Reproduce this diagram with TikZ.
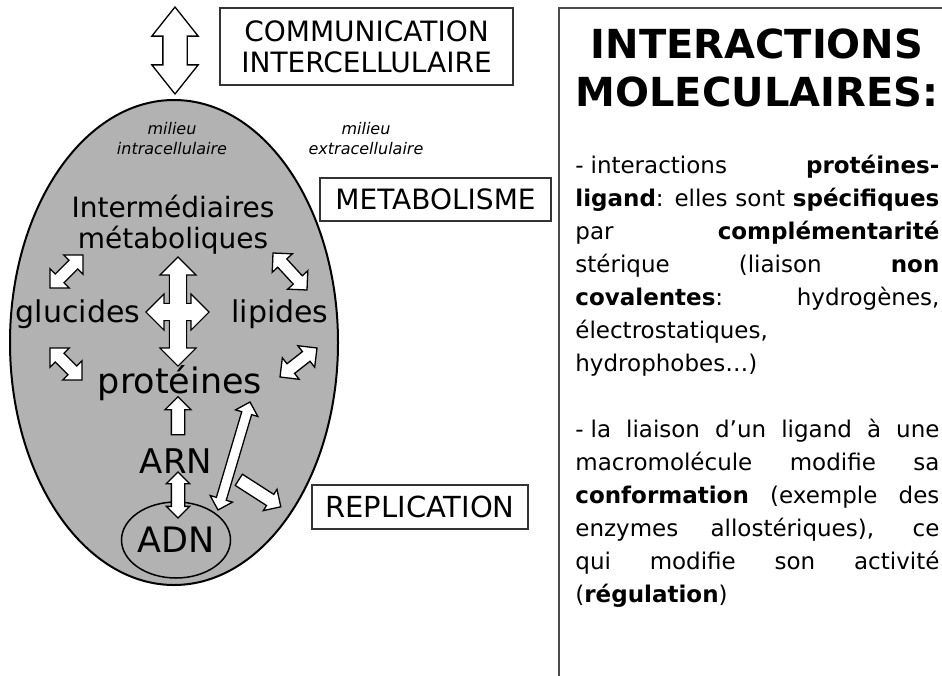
\documentclass[tikz,border=0pt]{standalone}
\usepackage{fontspec}
\setmainfont{DejaVu Sans}
\usetikzlibrary{shapes.geometric,shapes.arrows,calc}
\setlength{\parindent}{0pt}
\tolerance=10000
\hyphenpenalty=10000

\begin{document}
\begin{tikzpicture}[x=0.5pt,y=-0.5pt,
   frame/.style={draw=black!80,line width=0.6pt,fill=white,align=center,
     inner sep=0pt,font=\fontsize{14}{15.5}\selectfont},
   cell/.style={ellipse,draw,line width=1pt,fill=black!30,inner sep=0pt},
   milieu/.style={align=center,font=\itshape\fontsize{8}{10}\selectfont},
   mol/.style={anchor=base,inner sep=0pt,font=\fontsize{15}{18}\selectfont},
   dbl/.style n args={3}{double arrow,draw,fill=white,line width=0.65pt,
     inner xsep=0pt,inner ysep=#1pt,double arrow head extend=#2pt,
     double arrow tip angle=#3},
   sgl/.style n args={2}{single arrow,draw,fill=white,line width=0.65pt,
     inner xsep=0pt,inner ysep=#1pt,single arrow head extend=#2pt}]
  \useasboundingbox (0,0) rectangle (942,675);
  \draw[black!70,line width=0.75pt] (950,8) -- (559,8) -- (559,680);

  \node[cell,minimum width=164pt,minimum height=242.5pt] (cell) at (174,342.5) {};
  \node[frame,minimum width=146.5pt,minimum height=38.5pt] (com) at (366.5,46.5)
    {COMMUNICATION\\INTERCELLULAIRE};
  \node[frame,minimum width=115.5pt,minimum height=21.5pt] (meta) at (435.5,199.5)
    {METABOLISME};
  \node[frame,minimum width=108pt,minimum height=22pt,
    font=\fontsize{14.5}{16}\selectfont] (rep) at (420,507) {REPLICATION};
  \node[milieu] (intra) at (172,139) {milieu\\intracellulaire};
  \node[milieu] (extra) at (366,139) {milieu\\extracellulaire};
  \node[align=center,font=\fontsize{14}{15.5}\selectfont] (inter) at (173,225)
    {Intermédiaires\\métaboliques};
  \node[mol] (glu) at (78,322) {glucides};
  \node[mol] (lip) at (280,322) {lipides};
  \node[mol,font=\fontsize{17.5}{20}\selectfont] (prot) at (180,393) {protéines};
  \node[mol,font=\fontsize{17}{20}\selectfont] (arn) at (176,473) {ARN};
  \node[ellipse,draw,line width=0.75pt,inner sep=0pt,minimum width=54pt,
    minimum height=38pt,font=\fontsize{17.5}{20}\selectfont] (adn) at (176,540) {ADN};

  \coordinate (com1) at (175,7);    \coordinate (com2) at (175,94);
  \coordinate (ul1) at (83,255);    \coordinate (ul2) at (50,288);
  \coordinate (ur1) at (273,253);   \coordinate (ur2) at (307,290);
  \coordinate (ll1) at (50,348);    \coordinate (ll2) at (82,380);
  \coordinate (lr1) at (317,348);   \coordinate (lr2) at (280,377);
  \coordinate (vt1) at (178,258);   \coordinate (vt2) at (178,365);
  \coordinate (hz1) at (147,312);   \coordinate (hz2) at (208,312);
  \coordinate (tr1) at (178,438);   \coordinate (tr2) at (178,400);
  \coordinate (rn1) at (178,472);   \coordinate (rn2) at (178,518);
  \coordinate (rp1) at (250,402);   \coordinate (rp2) at (218,510);
  \coordinate (br1) at (236,478);   \coordinate (br2) at (278,505);

  \foreach \a/\b/\w/\e in {tr1/tr2/3/3.25,br1/br2/3/3}
    \path let \p1=($(\b)-(\a)$),\n1={veclen(\x1,\y1)},\n2={atan2(\y1,\x1)} in
      ($(\a)!0.5!(\b)$) node[sgl={\w}{\e},minimum height=\n1,rotate=\n2] {};
  \foreach \a/\b/\w/\e/\t in {com1/com2/5.75/5.5/77,ul1/ul2/2.75/3.75/90,
      ur1/ur2/2.75/3.75/90,ll1/ll2/2.75/3.75/90,lr1/lr2/2.75/3.75/90,
      rn1/rn2/3/2.5/90,rp1/rp2/2.25/3.25/90}
    \path let \p1=($(\b)-(\a)$),\n1={veclen(\x1,\y1)},\n2={atan2(\y1,\x1)} in
      ($(\a)!0.5!(\b)$) node[dbl={\w}{\e}{\t},minimum height=\n1,rotate=\n2] {};
  \foreach \k in {black,none}
    \foreach \a/\b in {vt1/vt2,hz1/hz2}
      \path let \p1=($(\b)-(\a)$),\n1={veclen(\x1,\y1)},\n2={atan2(\y1,\x1)} in
        ($(\a)!0.5!(\b)$) node[dbl={3.25}{4.25}{90},line width=1.3pt,draw=\k,
          minimum height=\n1,rotate=\n2] {};

  \node[align=center,font=\bfseries\fontsize{20}{24}\selectfont] (title) at (757,68)
    {INTERACTIONS\\MOLECULAIRES:};
  \node[anchor=north west,inner sep=0pt,text width=182pt,align=justify,
    font=\fontsize{11.5}{16.5}\selectfont] (body) at (575,155)
    {-\hspace{0.3em}interactions \textbf{protéines-}\linebreak
     \textbf{ligand}: elles sont \textbf{spécifiques}\linebreak
     par \textbf{complémentarité}\linebreak
     stérique (liaison \textbf{non}\linebreak
     \textbf{covalentes}: hydrogènes,\linebreak
     électrostatiques,\newline
     hydrophobes…)\par\vspace{\baselineskip}
     -\hspace{0.3em}la liaison d'un ligand à une\linebreak
     macromolécule modifie sa\linebreak
     \textbf{conformation} (exemple des\linebreak
     enzymes allostériques), ce\linebreak
     qui modifie son activité\linebreak
     (\textbf{régulation})};
\end{tikzpicture}
\end{document}
